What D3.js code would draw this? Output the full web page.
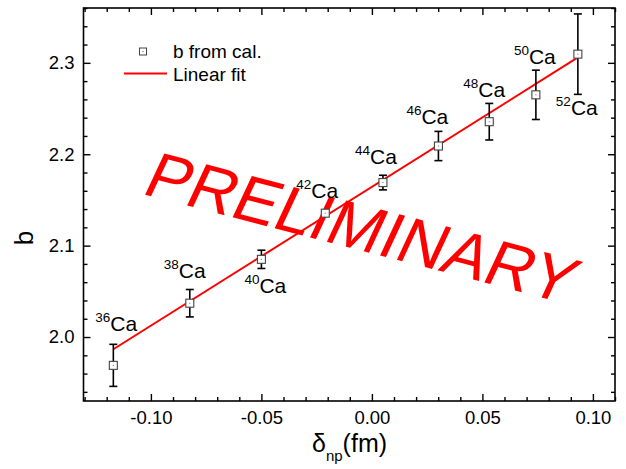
<!DOCTYPE html>
<html><head><meta charset="utf-8">
<script src="https://cdn.jsdelivr.net/npm/d3@7"></script>
<style>body{margin:0;background:#fff}svg{display:block}text{font-family:"Liberation Sans",Arial,sans-serif}</style>
</head><body>
<svg id="c" width="626" height="469"></svg>
<script>
// ---- data ----
const isotopes = ["36","38","40","42","44","46","48","50","52"];
const deltaNp  = [-0.117, -0.0824, -0.050, -0.0211, 0.005, 0.0301, 0.0531, 0.0742, 0.0932];
const bValues  = [1.969, 2.037, 2.085, 2.1355, 2.169, 2.209, 2.2356, 2.265, 2.3095];
const bErrors  = [0.023, 0.015, 0.010, 0.002, 0.008, 0.016, 0.020, 0.027, 0.044];
const fitX = [-0.117, 0.0932];
const fitY = [1.9866, 2.3059];
const xMajorTicks = [-0.10, -0.05, 0.00, 0.05, 0.10];
const xTickLabels = ["-0.10", "-0.05", "0.00", "0.05", "0.10"];
const yMajorTicks = [2.0, 2.1, 2.2, 2.3];
const yTickLabels = ["2.0", "2.1", "2.2", "2.3"];
const legendLabels = ["b from cal.", "Linear fit"];

// ---- layout ----
const L = 83.5, R = 615, T = 8, B = 401;
const labelOffsets = [[-18,-34],[-26,-25],[-17,34],[-29,-15],[-28,-19],[-32,-22],[-26,-25],[-22,-31],[-22,61]];

const svg = d3.select("#c");
const x = d3.scaleLinear().domain([-0.1305, 0.11]).range([L, R]);
const y = d3.scaleLinear().domain([1.93, 2.36]).range([B, T]);

const xMinor = d3.range(-13, 12).map(v => v / 100).filter(v => !xMajorTicks.some(m => Math.abs(m - v) < 1e-9));
const yMinor = d3.range(194, 237, 2).map(v => v / 100).filter(v => !yMajorTicks.some(m => Math.abs(m - v) < 1e-9));

function styleAxis(g) {
  g.select(".domain").remove();
  g.selectAll("line").attr("stroke", "#000").attr("stroke-width", 1.4);
  g.selectAll("text").attr("font-size", 18.5).attr("fill", "#000");
}
// bottom
svg.append("g").attr("transform", `translate(0,${B})`)
  .call(d3.axisBottom(x).tickValues(xMajorTicks).tickSize(-7).tickPadding(10).tickFormat((d,i) => xTickLabels[i]))
  .call(styleAxis);
svg.append("g").attr("transform", `translate(0,${B})`)
  .call(d3.axisBottom(x).tickValues(xMinor).tickSize(-4).tickFormat("")).call(styleAxis);
// top
svg.append("g").attr("transform", `translate(0,${T})`)
  .call(d3.axisTop(x).tickValues(xMajorTicks).tickSize(-7).tickFormat("")).call(styleAxis);
svg.append("g").attr("transform", `translate(0,${T})`)
  .call(d3.axisTop(x).tickValues(xMinor).tickSize(-4).tickFormat("")).call(styleAxis);
// left
svg.append("g").attr("transform", `translate(${L},0)`)
  .call(d3.axisLeft(y).tickValues(yMajorTicks).tickSize(-7).tickPadding(9).tickFormat((d,i) => yTickLabels[i]))
  .call(styleAxis);
svg.append("g").attr("transform", `translate(${L},0)`)
  .call(d3.axisLeft(y).tickValues(yMinor).tickSize(-4).tickFormat("")).call(styleAxis);
// right
svg.append("g").attr("transform", `translate(${R},0)`)
  .call(d3.axisRight(y).tickValues(yMajorTicks).tickSize(-7).tickFormat("")).call(styleAxis);
svg.append("g").attr("transform", `translate(${R},0)`)
  .call(d3.axisRight(y).tickValues(yMinor).tickSize(-4).tickFormat("")).call(styleAxis);

// frame
svg.append("rect").attr("x", L).attr("y", T).attr("width", R - L).attr("height", B - T)
  .attr("fill", "none").attr("stroke", "#000").attr("stroke-width", 1.6);

// PRELIMINARY watermark
svg.append("text").attr("transform", "translate(140,193.5) rotate(14.5) skewX(-10.5)")
  .attr("text-anchor", "start")
  .attr("font-size", 65).attr("fill", "#ff0000").text("PRELIMINARY");

// fit line
svg.append("line")
  .attr("x1", x(fitX[0])).attr("y1", y(fitY[0])).attr("x2", x(fitX[1])).attr("y2", y(fitY[1]))
  .attr("stroke", "#ff0000").attr("stroke-width", 2);

// error bars
const eb = svg.append("g").attr("stroke", "#000").attr("stroke-width", 1.6);
deltaNp.forEach((d, i) => {
  const cx = x(d), y1 = y(bValues[i] + bErrors[i]), y2 = y(bValues[i] - bErrors[i]);
  eb.append("line").attr("x1", cx).attr("x2", cx).attr("y1", y1).attr("y2", y2);
  eb.append("line").attr("x1", cx - 4).attr("x2", cx + 4).attr("y1", y1).attr("y2", y1);
  eb.append("line").attr("x1", cx - 4).attr("x2", cx + 4).attr("y1", y2).attr("y2", y2);
});
// markers
const mk = svg.append("g");
deltaNp.forEach((d, i) => {
  const cx = x(d), cy = y(bValues[i]);
  mk.append("rect").attr("x", cx - 4).attr("y", cy - 4).attr("width", 8).attr("height", 8)
    .attr("fill", "#fff").attr("stroke", "#444").attr("stroke-width", 1.1);
  mk.append("rect").attr("x", cx - 0.5).attr("y", cy - 0.5).attr("width", 1).attr("height", 1).attr("fill", "#666");
});

// isotope labels
deltaNp.forEach((d, i) => {
  const t = svg.append("text").attr("x", x(d) + labelOffsets[i][0]).attr("y", y(bValues[i]) + labelOffsets[i][1])
    .attr("font-size", 21).attr("fill", "#000");
  t.append("tspan").attr("font-size", 13.5).attr("dy", -9).text(isotopes[i]);
  t.append("tspan").attr("dy", 9).text("Ca");
});

// legend
svg.append("rect").attr("x", 139.5).attr("y", 48).attr("width", 7).attr("height", 7)
  .attr("fill", "#fff").attr("stroke", "#444").attr("stroke-width", 1);
svg.append("rect").attr("x", 142.5).attr("y", 51).attr("width", 1).attr("height", 1).attr("fill", "#666");
svg.append("text").attr("x", 173).attr("y", 58).attr("font-size", 19).text(legendLabels[0]);
svg.append("line").attr("x1", 124).attr("x2", 167).attr("y1", 73.5).attr("y2", 73.5)
  .attr("stroke", "#ff0000").attr("stroke-width", 2);
svg.append("text").attr("x", 173).attr("y", 81).attr("font-size", 19).text(legendLabels[1]);

// axis titles
svg.append("text").attr("transform", "translate(33,238) rotate(-90)").attr("text-anchor", "middle")
  .attr("font-size", 26).text("b");
const xt = svg.append("text").attr("x", 312).attr("y", 452).attr("font-size", 25);
xt.append("tspan").text("δ");
xt.append("tspan").attr("font-size", 15).attr("dy", 9).text("np");
xt.append("tspan").attr("dy", -9).text("(fm)");
</script>
</body></html>
